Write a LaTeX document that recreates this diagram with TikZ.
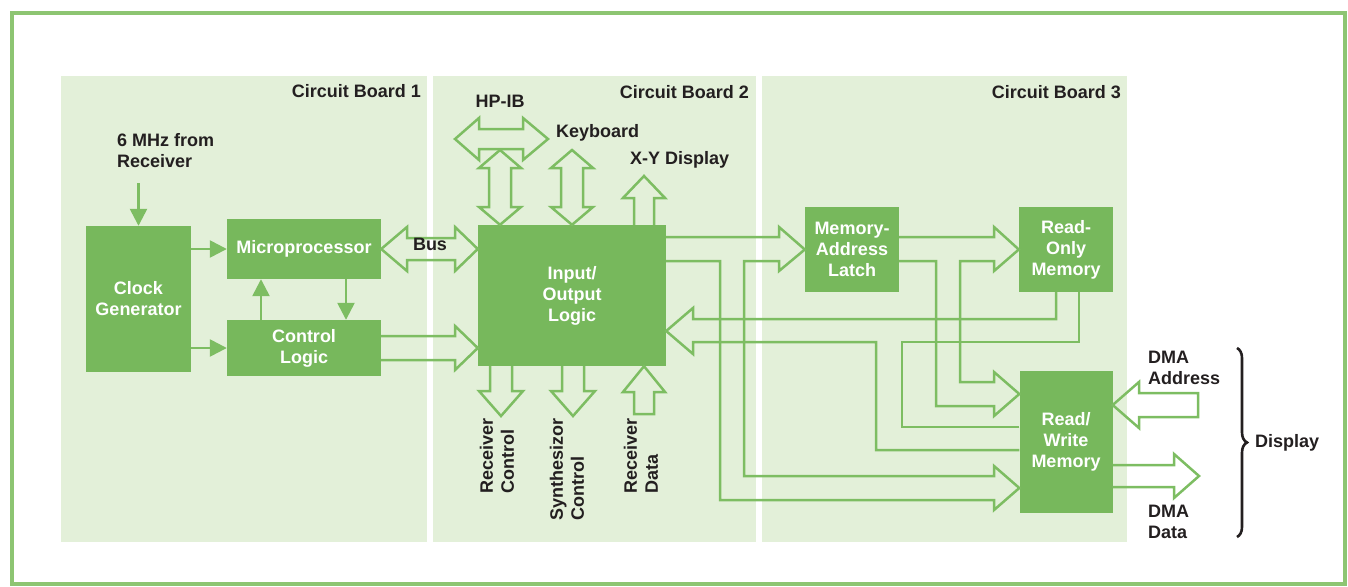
\documentclass[tikz,border=0pt]{standalone}
\usepackage{fontspec}
\setmainfont{Liberation Sans}
\usetikzlibrary{arrows.meta,decorations.pathreplacing}
\definecolor{framegreen}{HTML}{8DC572}
\definecolor{boardbg}{HTML}{E3F0D9}
\definecolor{boxgreen}{HTML}{77B85C}
\definecolor{wire}{HTML}{7DBD62}
\definecolor{ink}{HTML}{231F20}

\begin{document}
\begin{tikzpicture}[x=1pt, y=-1pt,
  every node/.style={font=\fontsize{18}{21}\selectfont\bfseries, inner sep=0pt},
  box/.style={fill=boxgreen, text=white, align=center},
  lbl/.style={text=ink, align=left},
  sig/.style={draw=wire, line width=2.5pt, -{Triangle[length=17pt,width=17pt]}},
  bus/.style={draw=wire, line width=2.5pt, line join=miter}]
\useasboundingbox (0,0) rectangle (1348,586);
\draw [framegreen, line width=4pt] (12,13) rectangle (1345,584);

\fill [boardbg] (61,76) rectangle (427,542); \fill [boardbg] (433,76) rectangle (756,542); \fill [boardbg] (762,76) rectangle (1127,542);
\node [lbl, anchor=east] at (421,91) {Circuit Board 1}; \node [lbl, anchor=east] at (749,92) {Circuit Board 2}; \node [lbl, anchor=east] at (1121,92) {Circuit Board 3};

\node [box, minimum width=105pt, minimum height=146pt] (clk) at (138.5,299) {Clock\\Generator};
\node [box, minimum width=154pt, minimum height=60pt] (mp) at (304,249) {Microprocessor};
\node [box, minimum width=154pt, minimum height=56pt] (ctl) at (304,348) {Control\\Logic};
\node [box, minimum width=188pt, minimum height=141pt] (io) at (572,295.5) {Input/\\Output\\Logic};
\node [box, minimum width=94pt, minimum height=85pt] (lat) at (852,249.5) {Memory-\\Address\\Latch};
\node [box, minimum width=94pt, minimum height=85pt] (rom) at (1066,249.5) {Read-\\Only\\Memory};
\node [box, minimum width=93pt, minimum height=142pt] (rw) at (1066,442) {Read/\\Write\\Memory};

\node [lbl, anchor=west] (mhz) at (117,151) {6 MHz from\\Receiver};
\draw [sig] (clk.north |- 0,183) -- (clk.north);
\draw [sig] (clk.east |- mp.west) -- (mp.west); \draw [sig] (clk.east |- ctl.west) -- (ctl.west);
\draw [sig] (ctl.north -| 261,0) -- (mp.south -| 261,0); \draw [sig] (mp.south -| 346,0) -- (ctl.north -| 346,0);

\draw [bus] (mp.east) -- (407,227) -- (407,238) -- (455,238) -- (455,227) -- (io.west |- mp.east) -- (455,271) -- (455,260) -- (407,260) -- (407,271) -- cycle;
\node [lbl] (bus) at (430,244) {Bus};
\draw [bus] (ctl.east |- 0,336) -- (455,336) -- (455,326) -- (io.west |- ctl.east) -- (455,370) -- (455,360) -- (ctl.east |- 0,360);

\draw [bus] (455,139) -- (479,118) -- (479,129) -- (523,129) -- (523,118) -- (548,139) -- (523,160) -- (523,149) -- (479,149) -- (479,160) -- cycle;
\draw [bus] (500,150) -- (521,168) -- (511,168) -- (511,207) -- (521,207) -- (io.north -| 500,0) -- (479,207) -- (489,207) -- (489,168) -- (479,168) -- cycle;
\draw [bus] (572,150) -- (593,168) -- (583,168) -- (583,207) -- (593,207) -- (io.north -| 572,0) -- (551,207) -- (561,207) -- (561,168) -- (551,168) -- cycle;
\draw [bus] (io.north -| 634,0) -- (634,198) -- (623,198) -- (644,176) -- (665,198) -- (654,198) -- (io.north -| 654,0);
\node [lbl] (hpib) at (500,101) {HP-IB}; \node [lbl, anchor=west] (kbd) at (556,133) {Keyboard}; \node [lbl, anchor=west] (xy) at (630,160) {X-Y Display};

\draw [bus] (io.south -| 490,0) -- (490,391) -- (479,391) -- (501,416) -- (523,391) -- (512,391) -- (io.south -| 512,0);
\draw [bus] (io.south -| 562,0) -- (562,391) -- (551,391) -- (573,416) -- (595,391) -- (584,391) -- (io.south -| 584,0);
\draw [bus] (io.south -| 644,0) -- (665,392) -- (654,392) -- (654,414) -- (634,414) -- (634,392) -- (623,392) -- cycle;
\node [lbl, rotate=90, anchor=east] (rxc) at (497,418) {Receiver\\Control};
\node [lbl, rotate=90, anchor=east] (syc) at (567,418) {Synthesizor\\Control};
\node [lbl, rotate=90, anchor=east] (rxd) at (641,418) {Receiver\\Data};

\draw [bus] (io.east |- 0,237) -- (779,237) -- (779,227) -- (lat.west) -- (779,271) -- (779,261) -- (744,261) -- (744,476) -- (994,476) -- (994,466) -- (rw.west |- 0,488) -- (994,510) -- (994,500) -- (720,500) -- (720,261) -- (io.east |- 0,261);
\draw [bus] (lat.east |- 0,237) -- (994,237) -- (994,227) -- (rom.west) -- (994,271) -- (994,261) -- (960,261) -- (960,382) -- (994,382) -- (994,372) -- (rw.west |- 0,394) -- (994,416) -- (994,406) -- (936,406) -- (936,261) -- (lat.east |- 0,261);
\draw [bus] (rom.south -| 1056,0) -- (1056,319) -- (693,319) -- (693,308) -- (io.east |- 0,331) -- (693,354) -- (693,342) -- (876,342) -- (876,450) -- (rw.west |- 0,450);
\draw [bus] (rw.west |- 0,427) -- (902,427) -- (902,342) -- (1079,342) -- (rom.south -| 1079,0);

\draw [bus] (rw.east |- 0,405) -- (1139,382) -- (1139,393) -- (1198,393) -- (1198,417) -- (1139,417) -- (1139,428) -- cycle;
\draw [bus] (rw.east |- 0,465) -- (1174,465) -- (1174,454) -- (1199,476) -- (1174,498) -- (1174,487) -- (rw.east |- 0,487);
\node [lbl, anchor=west] (dmaa) at (1148,368) {DMA\\Address}; \node [lbl, anchor=west] (dmad) at (1148,522) {DMA\\Data};
\draw [ink, line width=2.6pt, decorate, decoration={brace, amplitude=10pt}] (1237,348) -- (1237,537);
\node [lbl, anchor=west] (disp) at (1255,443) {Display};
\end{tikzpicture}
\end{document}
